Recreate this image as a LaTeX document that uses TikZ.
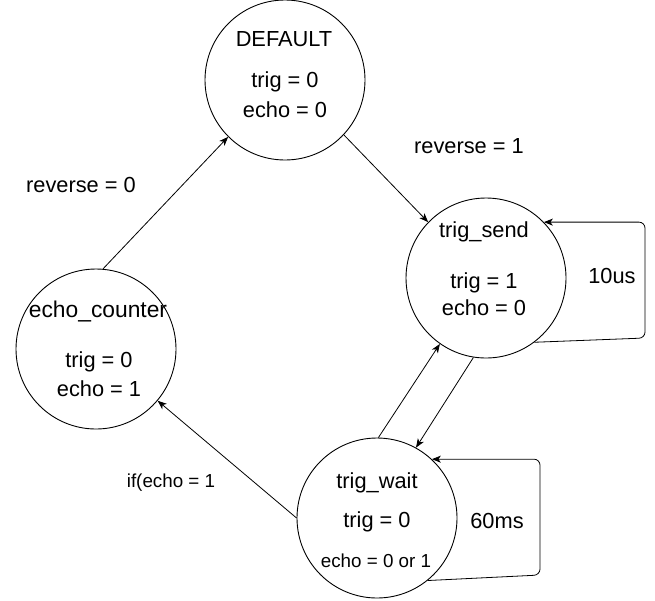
\documentclass[tikz,border=0pt]{standalone}
\usepackage{fontspec}
\setmainfont{Liberation Sans}
\usetikzlibrary{arrows.meta}
\begin{document}
\begin{tikzpicture}[x=1pt,y=-1pt,
  state/.style={circle,draw,line width=0.9pt,minimum size=160pt,inner sep=0pt},
  big/.style={font=\fontsize{21.8}{26}\selectfont,inner sep=0pt,anchor=base},
  small/.style={font=\fontsize{18.8}{22}\selectfont,inner sep=0pt,anchor=base},
  edge/.style={line width=0.8pt,-{Stealth[length=9pt,width=7pt,inset=2.5pt]}},
  loop/.style={edge,rounded corners=6pt}
]
\useasboundingbox (0,0) rectangle (655,600);

% states
\node[state] (def) at (285,80) {};
\node[state] (ts) at (486,278) {};
\node[state] (ec) at (96,349) {};
\node[state] (tw) at (377,518) {};

% state texts
\node[big] (defn) at (284,46) {DEFAULT};
\node[big] (deft) at (285,87) {trig = 0};
\node[big] (defe) at (285,117) {echo = 0};

\node[big] (tsn) at (484,237) {trig\_send};
\node[big] (tst) at (484,288) {trig = 1};
\node[big] (tse) at (484,315) {echo = 0};

\node[font=\fontsize{22.8}{26}\selectfont,inner sep=0pt,anchor=base] (ecn) at (98,317) {echo\_counter};
\node[big] (ect) at (99,367) {trig = 0};
\node[big] (ece) at (99,396) {echo = 1};

\node[big] (twn) at (377,488) {trig\_wait};
\node[big] (twt) at (377,527) {trig = 0};
\node[small] (twe) at (376,567) {echo = 0 or 1};

% edges
\draw[edge] (ec.85) -- (def.225);
\draw[edge] (def.-43) -- (ts.136);
\draw[edge] (tw.89) -- (ts.-125);
\draw[edge] (ts.-99) -- (tw.61);
\draw[edge] (tw.180) -- (ec.-40);
\coordinate (tsl) at (645,338);
\coordinate (twl) at (540,575);
\draw[loop] (ts.-53) -- (tsl) |- (ts.44);
\draw[loop] (tw.-51) -- (twl) |- (tw.47);

% edge labels
\node[big] (l1) at (81,192) {reverse = 0};
\node[big] (l2) at (469,153) {reverse = 1};
\node[big] (l3) at (612,283) {10us};
\node[big] (l4) at (497,528) {60ms};
\node[small] (l5) at (171,487) {if(echo = 1};
\end{tikzpicture}
\end{document}
